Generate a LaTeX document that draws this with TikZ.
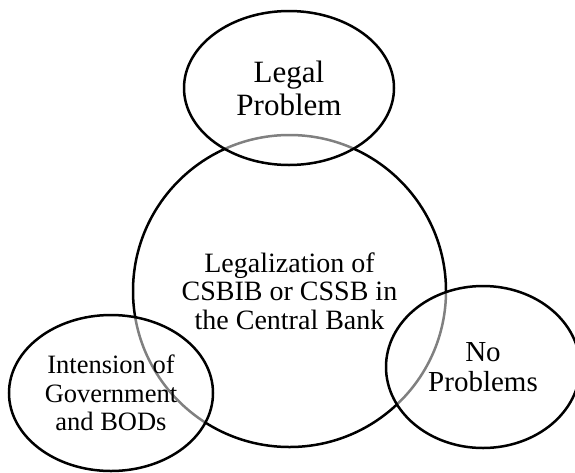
\documentclass[tikz,border=0pt]{standalone}
\usepackage{fontspec}
\setmainfont{Liberation Serif}
\usetikzlibrary{shapes.geometric}
\tikzset{
  blob/.style={draw=black, line width=2.5pt, ellipse, inner sep=0pt, align=center,
    fill=white, fill opacity=0.5, text opacity=1},
  bigblob/.style={draw=black, line width=2.5pt, ellipse, inner sep=0pt, align=center}
}
\begin{document}
\begin{tikzpicture}[x=1pt,y=-1pt]
\useasboundingbox (0,0) rectangle (575,472);
\node[bigblob, minimum width=313pt, minimum height=312pt,
  font=\fontsize{28}{28.5}\selectfont] (center) at (289.5,291)
  {Legalization of\\CSBIB or CSSB in\\the Central Bank};
\node[blob, minimum width=210pt, minimum height=154pt,
  font=\fontsize{31}{33}\selectfont] (legal) at (289,88)
  {Legal\\Problem};
\node[blob, minimum width=204pt, minimum height=156pt,
  font=\fontsize{26.5}{28.3}\selectfont] (gov) at (111,393)
  {Intension of\\Government\\and BODs};
\node[blob, minimum width=194pt, minimum height=162pt,
  font=\fontsize{29}{30}\selectfont] (noprob) at (483,367)
  {No\\Problems};
\end{tikzpicture}
\end{document}
